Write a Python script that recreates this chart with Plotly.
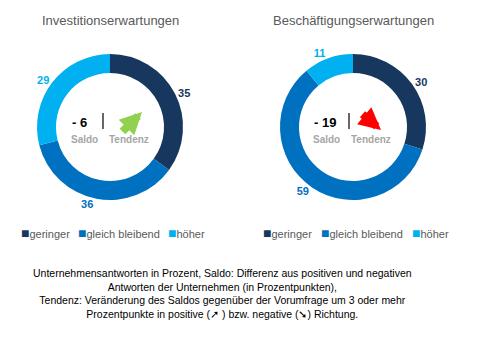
import plotly.graph_objects as go

W, H = 484, 345
categories = ["geringer", "gleich bleibend", "höher"]
invest_values = [35, 36, 29]
besch_values = [30, 59, 11]
colors = ["#17375E", "#0070C0", "#00B0F0"]
titles = ["Investitionserwartungen", "Beschäftigungserwartungen"]
saldo = ["- 6", "- 19"]
tendenz_up = [True, False]

def px_x(x):
    return x / W

def px_y(y):
    return 1 - y / H

fig = go.Figure()
centers = [(110, 127), (353, 127)]
half = 73
for i, (vals, (cx, cy)) in enumerate(zip([invest_values, besch_values], centers)):
    fig.add_trace(go.Pie(
        labels=categories, values=vals, hole=0.74, sort=False, direction="clockwise",
        rotation=0, textinfo="value", textposition="outside",
        textfont=dict(color=colors, size=11, family="Liberation Sans, Arial", weight="bold"),
        marker=dict(colors=colors, line=dict(width=0)),
        domain=dict(x=[px_x(cx - half), px_x(cx + half)], y=[px_y(cy + half), px_y(cy - half)]),
        hoverinfo="label+value", showlegend=False,
    ))

ann = []
gray = "#595959"
legend_x = [[19, 76, 166], [261, 319, 410]]
saldo_right = [-21, -15]
saldo_c = [-26, -27]
tend_c = [19, 18]
sep_x = [-7, -4]
for i, (cx, cy) in enumerate(centers):
    ann.append(dict(x=px_x(cx), y=px_y(20), text=titles[i], showarrow=False,
                    font=dict(size=13, color=gray), xanchor="center", yanchor="middle"))
    ann.append(dict(x=px_x(cx + saldo_right[i]), y=px_y(122), text="<b>" + saldo[i] + "</b>",
                    showarrow=False, font=dict(size=13, color="#000000"),
                    xanchor="right", yanchor="middle"))
    ann.append(dict(x=px_x(cx + saldo_c[i]), y=px_y(139), text="<b>Saldo</b>", showarrow=False,
                    font=dict(size=10, color="#A6A6A6"), xanchor="center", yanchor="middle"))
    ann.append(dict(x=px_x(cx + tend_c[i]), y=px_y(139), text="<b>Tendenz</b>", showarrow=False,
                    font=dict(size=10, color="#A6A6A6"), xanchor="center", yanchor="middle"))
    if tendenz_up[i]:
        ann.append(dict(x=px_x(cx + 32), y=px_y(112), ax=-21, ay=21, text="", showarrow=True,
                        arrowhead=2, arrowsize=0.55, arrowwidth=8, arrowcolor="#92D050",
                        xref="paper", yref="paper"))
    else:
        ann.append(dict(x=px_x(cx + 28), y=px_y(130), ax=-20, ay=-17, text="", showarrow=True,
                        arrowhead=2, arrowsize=0.55, arrowwidth=8, arrowcolor="#FF0000",
                        xref="paper", yref="paper"))
    for c, lx in zip(range(3), legend_x[i]):
        ann.append(dict(x=px_x(lx), y=px_y(233),
                        text=f"<span style='color:{colors[c]};font-size:14px'>■</span>{categories[c]}",
                        showarrow=False, font=dict(size=11, color=gray),
                        xanchor="left", yanchor="middle"))

footnote = ("Unternehmensantworten in Prozent, Saldo: Differenz aus positiven und negativen<br>"
            "Antworten der Unternehmen (in Prozentpunkten),<br>"
            "Tendenz: Veränderung des Saldos gegenüber der Vorumfrage um 3 oder mehr<br>"
            "Prozentpunkte in positive (➚ ) bzw. negative (➘) Richtung.")
ann.append(dict(x=px_x(222), y=px_y(265), text=footnote, showarrow=False, align="center",
                font=dict(size=10.5, color="#000000"), xanchor="center", yanchor="top"))

shapes = []
for i, (cx, cy) in enumerate(centers):
    shapes.append(dict(type="line", xref="paper", yref="paper",
                       x0=px_x(cx + sep_x[i]), x1=px_x(cx + sep_x[i]), y0=px_y(113), y1=px_y(129),
                       line=dict(color="#000000", width=1.2)))

fig.update_layout(
    width=W, height=H, margin=dict(l=0, r=0, t=0, b=0),
    paper_bgcolor="white", plot_bgcolor="white",
    font=dict(family="Liberation Sans, Arial, sans-serif"),
    annotations=ann, shapes=shapes, showlegend=False,
)
fig.write_html("out.html")
